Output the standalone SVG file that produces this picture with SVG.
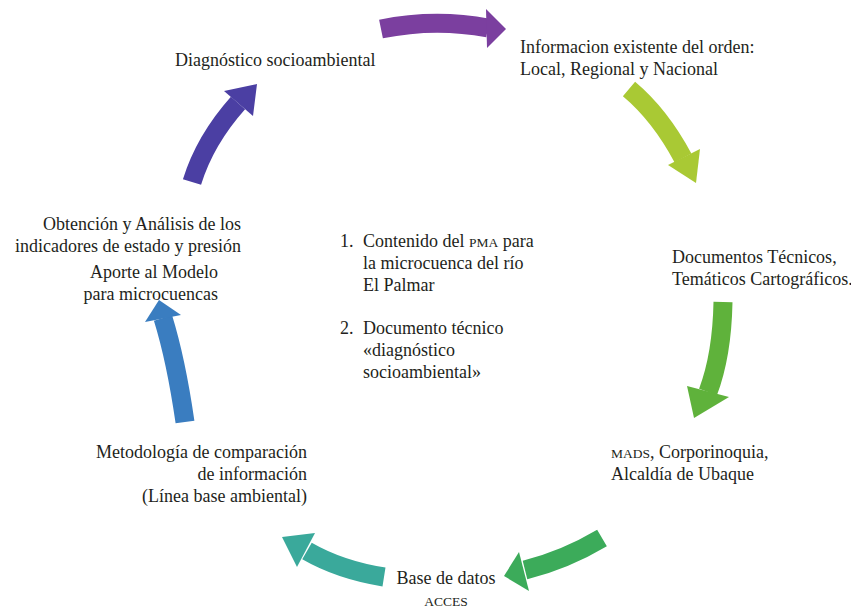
<svg xmlns="http://www.w3.org/2000/svg" width="851" height="609" viewBox="0 0 851 609" font-family="Liberation Serif, Times New Roman, serif">
<style>
text{font-family:"Liberation Serif","Times New Roman",serif;font-size:18px;fill:#231f20}
.sc{font-size:13.5px}
.body{fill:none;stroke-width:19;stroke-linecap:butt}
.e{text-anchor:end}
.m{text-anchor:middle}
</style>
<rect width="851" height="609" fill="#ffffff"/>
<g id="connectors">
  <g id="a1"><path class="body" stroke="#7b3f9f" d="M381,29 Q435,18 488,28"/><polygon fill="#7b3f9f" points="486,9 506,29 487,48"/></g>
  <g id="a2"><path class="body" stroke="#a9c934" d="M629,89 Q660,115 683,158"/><polygon fill="#a9c934" points="700,149 696,183 668,165"/></g>
  <g id="a3"><path class="body" stroke="#5fb23b" d="M723,302 Q722,355 708,392"/><polygon fill="#5fb23b" points="729,397 694,418 687,386"/></g>
  <g id="a4"><path class="body" stroke="#3cab5a" d="M602,538 Q565,560 525,570"/><polygon fill="#3cab5a" points="519,552 504,576 529,591"/></g>
  <g id="a5"><path class="body" stroke="#3aa99b" d="M384,577 Q340,570 307,551"/><polygon fill="#3aa99b" points="315,533 282,537 297,567"/></g>
  <g id="a6"><path class="body" stroke="#3a7dc0" d="M185,422 Q176,360 163,318"/><polygon fill="#3a7dc0" points="181,315 159,300 145,322"/></g>
  <g id="a7"><path class="body" stroke="#4b3fa3" d="M192,182 Q205,140 238,103"/><polygon fill="#4b3fa3" points="253,116 257,84 224,91"/></g>
</g>
<g id="n-diagnostico"><text x="175" y="66">Diagnóstico socioambiental</text></g>
<g id="n-informacion"><text x="520" y="53">Informacion existente del orden:</text><text x="520" y="75">Local, Regional y Nacional</text></g>
<g id="n-documentos"><text x="672" y="263">Documentos Técnicos,</text><text x="672" y="285">Temáticos Cartográficos.</text></g>
<g id="n-mads"><text x="611" y="458"><tspan class="sc">MADS</tspan>, Corporinoquia,</text><text x="611" y="480">Alcaldía de Ubaque</text></g>
<g id="n-base"><text class="m" x="446" y="584">Base de datos</text><text class="m sc" x="446" y="606">ACCES</text></g>
<g id="n-metodologia"><text class="e" x="307" y="458">Metodología de comparación</text><text class="e" x="307" y="480">de información</text><text class="e" x="307" y="502">(Línea base ambiental)</text></g>
<g id="n-aporte"><text class="e" x="218" y="278">Aporte al Modelo</text><text class="e" x="218" y="300">para microcuencas</text></g>
<g id="n-obtencion"><text class="e" x="241" y="230">Obtención y Análisis de los</text><text class="e" x="241" y="252">indicadores de estado y presión</text></g>
<g id="n-centro">
  <text x="340" y="247">1.</text><text x="363" y="247">Contenido del <tspan class="sc">PMA</tspan> para</text>
  <text x="363" y="269">la microcuenca del río</text>
  <text x="363" y="291">El Palmar</text>
  <text x="340" y="334">2.</text><text x="363" y="334">Documento técnico</text>
  <text x="363" y="356">«diagnóstico</text>
  <text x="363" y="378">socioambiental»</text>
</g>
</svg>
